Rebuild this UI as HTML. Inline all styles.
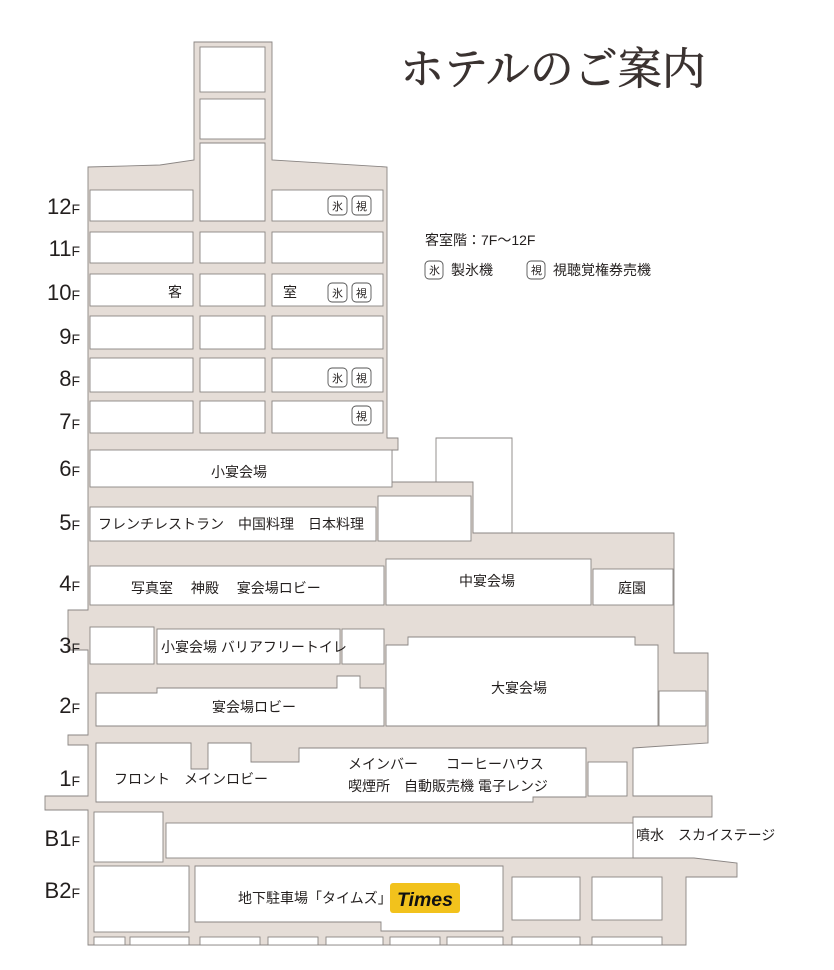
<!DOCTYPE html>
<html><head><meta charset="utf-8">
<style>
html,body{margin:0;padding:0;background:#fff;}
svg{display:block;}
text{font-family:"Liberation Sans","Noto Sans CJK JP",sans-serif;fill:#231f1e;}
.r{fill:#fff;stroke:#8a8583;stroke-width:0.9;}
.fl{font-size:22px;fill:#231f1e;}
.fs{font-size:14px;}
.lb{font-size:14px;}
.ic{fill:#fff;stroke:#555;stroke-width:0.9;}
.it{font-size:11px;}
</style></head>
<body>
<svg width="834" height="970" viewBox="0 0 834 970" xmlns="http://www.w3.org/2000/svg">
<text x="400" y="84" style="font-family:'Liberation Serif','Noto Serif CJK SC',serif;font-size:44px;fill:#3a3230;stroke:#3a3230;stroke-width:0.6;">ホテルのご案内</text>

<polygon fill="#e5ddd7" stroke="#8a8583" stroke-width="0.9" points="194,42 272,42 272,160 387,167 387,438 398,438 398,450 392,450 392,482 473,482 473,533 674,533 674,653 708,653 708,743 633,748 633,796 712,796 712,817 633,817 633,858 694,858 737,863 737,877 686,877 686,945 88,945 88,810 45,810 45,796 88,796 88,745 68,745 68,735 88,735 88,650 68,650 68,610 88,610 88,167 160,165 194,160"/>
<polyline fill="none" stroke="#8a8583" stroke-width="0.9" points="436,482 436,438 512,438 512,533"/>

<rect class="r" x="200" y="47" width="65" height="45"/>
<rect class="r" x="200" y="99" width="65" height="40"/>

<g>
<rect class="r" x="90" y="190" width="103" height="31"/><polygon class="r" points="200,143 265,143 265,221 200,221"/><rect class="r" x="272" y="190" width="111" height="31"/>
<rect class="r" x="90" y="232" width="103" height="31"/><rect class="r" x="200" y="232" width="65" height="31"/><rect class="r" x="272" y="232" width="111" height="31"/>
<rect class="r" x="90" y="274" width="103" height="32"/><rect class="r" x="200" y="274" width="65" height="32"/><rect class="r" x="272" y="274" width="111" height="32"/>
<rect class="r" x="90" y="316" width="103" height="33"/><rect class="r" x="200" y="316" width="65" height="33"/><rect class="r" x="272" y="316" width="111" height="33"/>
<rect class="r" x="90" y="358" width="103" height="34"/><rect class="r" x="200" y="358" width="65" height="34"/><rect class="r" x="272" y="358" width="111" height="34"/>
<rect class="r" x="90" y="401" width="103" height="32"/><rect class="r" x="200" y="401" width="65" height="32"/><rect class="r" x="272" y="401" width="111" height="32"/>
</g>
<text class="lb" x="168" y="297">客</text>
<text class="lb" x="283" y="297">室</text>

<g>
<rect class="ic" x="328" y="196" width="19" height="19" rx="4"/><text class="it" x="332" y="210">氷</text>
<rect class="ic" x="352" y="196" width="19" height="19" rx="4"/><text class="it" x="356" y="210">視</text>
<rect class="ic" x="328" y="283" width="19" height="19" rx="4"/><text class="it" x="332" y="297">氷</text>
<rect class="ic" x="352" y="283" width="19" height="19" rx="4"/><text class="it" x="356" y="297">視</text>
<rect class="ic" x="328" y="368" width="19" height="19" rx="4"/><text class="it" x="332" y="382">氷</text>
<rect class="ic" x="352" y="368" width="19" height="19" rx="4"/><text class="it" x="356" y="382">視</text>
<rect class="ic" x="352" y="406" width="19" height="19" rx="4"/><text class="it" x="356" y="420">視</text>
</g>

<text class="lb" x="425" y="245">客室階：7F～12F</text>
<rect class="ic" x="425" y="261" width="18" height="18" rx="4"/><text class="it" x="429" y="274">氷</text>
<text class="lb" x="451" y="275">製氷機</text>
<rect class="ic" x="527" y="261" width="18" height="18" rx="4"/><text class="it" x="531" y="274">視</text>
<text class="lb" x="553" y="275">視聴覚権券売機</text>

<rect class="r" x="90" y="450" width="302" height="37"/>
<text class="lb" x="211" y="477">小宴会場</text>
<rect class="r" x="90" y="507" width="286" height="34"/>
<rect class="r" x="378" y="496" width="93" height="45"/>
<text class="lb" x="98" y="529">フレンチレストラン　中国料理　日本料理</text>
<rect class="r" x="90" y="566" width="294" height="39"/>
<rect class="r" x="386" y="559" width="205" height="46"/>
<rect class="r" x="593" y="569" width="80" height="36"/>
<text class="lb" x="131" y="593">写真室　 神殿　 宴会場ロビー</text>
<text class="lb" x="459" y="586">中宴会場</text>
<text class="lb" x="618" y="593">庭園</text>
<rect class="r" x="90" y="627" width="64" height="37"/>
<rect class="r" x="157" y="629" width="183" height="35"/>
<rect class="r" x="342" y="629" width="42" height="35"/>
<text class="lb" x="161" y="652">小宴会場 バリアフリートイレ</text>
<polygon class="r" points="386,645 408,645 408,637 635,637 635,645 658,645 658,726 386,726"/>
<text class="lb" x="491" y="693">大宴会場</text>
<polygon class="r" points="96,693 157,693 157,688 337,688 337,676 360,676 360,688 384,688 384,726 96,726"/>
<rect class="r" x="659" y="691" width="47" height="35"/>
<text class="lb" x="212" y="712">宴会場ロビー</text>
<polygon class="r" points="96,743 191,743 191,769 208,769 208,743 251,743 251,762 299,762 299,748 586,748 586,797 533,797 533,802 96,802"/>
<rect class="r" x="588" y="762" width="39" height="34"/>
<text class="lb" x="114" y="784">フロント　メインロビー</text>
<text class="lb" x="348" y="769">メインバー　　コーヒーハウス</text>
<text class="lb" x="348" y="791">喫煙所　自動販売機  電子レンジ</text>
<rect class="r" x="94" y="812" width="69" height="50"/>
<rect class="r" x="166" y="823" width="467" height="35"/>
<text class="lb" x="636" y="840">噴水　スカイステージ</text>
<rect class="r" x="94" y="866" width="95" height="66"/>
<polygon class="r" points="195,866 503,866 503,931 381,931 381,922 195,922"/>
<rect class="r" x="512" y="877" width="68" height="43"/>
<rect class="r" x="592" y="877" width="70" height="43"/>
<g>
<rect class="r" x="94" y="937" width="31" height="8"/><rect class="r" x="130" y="937" width="59" height="8"/>
<rect class="r" x="200" y="937" width="60" height="8"/><rect class="r" x="268" y="937" width="50" height="8"/>
<rect class="r" x="326" y="937" width="57" height="8"/><rect class="r" x="390" y="937" width="50" height="8"/>
<rect class="r" x="447" y="937" width="56" height="8"/><rect class="r" x="512" y="937" width="68" height="8"/>
<rect class="r" x="592" y="937" width="70" height="8"/>
</g>
<text class="lb" x="238" y="903">地下駐車場「タイムズ」</text>
<rect x="390" y="883" width="70" height="30" rx="3" fill="#f2c21c"/>
<text x="397" y="906" textLength="56" lengthAdjust="spacingAndGlyphs" style="font-size:19px;font-weight:bold;font-style:italic;fill:#111;">Times</text>

<g class="fl" text-anchor="end">
<text x="80" y="214">12<tspan class="fs">F</tspan></text>
<text x="80" y="256">11<tspan class="fs">F</tspan></text>
<text x="80" y="300">10<tspan class="fs">F</tspan></text>
<text x="80" y="344">9<tspan class="fs">F</tspan></text>
<text x="80" y="386">8<tspan class="fs">F</tspan></text>
<text x="80" y="429">7<tspan class="fs">F</tspan></text>
<text x="80" y="476">6<tspan class="fs">F</tspan></text>
<text x="80" y="530">5<tspan class="fs">F</tspan></text>
<text x="80" y="591">4<tspan class="fs">F</tspan></text>
<text x="80" y="653">3<tspan class="fs">F</tspan></text>
<text x="80" y="713">2<tspan class="fs">F</tspan></text>
<text x="80" y="786">1<tspan class="fs">F</tspan></text>
<text x="80" y="846">B1<tspan class="fs">F</tspan></text>
<text x="80" y="898">B2<tspan class="fs">F</tspan></text>
</g>
</svg>
</body></html>
